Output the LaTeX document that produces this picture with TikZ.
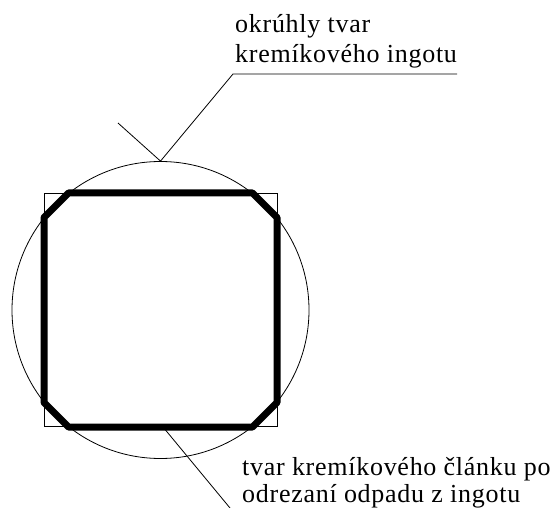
\documentclass[tikz,border=0pt]{standalone}
\usepackage{fontspec}
\setmainfont{Liberation Serif}
\newfontfamily\lblfont[LetterSpace=2.8]{Liberation Serif}
\tikzset{
  thinline/.style={line width=0.8pt},
  cutline/.style={line width=7pt, line join=round},
  lbl/.style={inner sep=0pt, anchor=base west, align=left}
}
\begin{document}
\begin{tikzpicture}[x=1pt,y=-1pt]
\useasboundingbox (0,0) rectangle (552,508);
\node[circle, draw, thinline, minimum size=297pt, inner sep=0pt] (ingot) at (160.5,310) {};
\node[draw, thinline, minimum size=233pt, inner sep=0pt] (sq) at (160.5,310) {};
\draw[cutline] (68.5,193) -- (252.5,193) -- (277,217.5) -- (277,402.5) -- (252.5,427)
  -- (68.5,427) -- (44,402.5) -- (44,217.5) -- cycle;
% top label
\node[lbl, font=\lblfont\fontsize{26}{30}\selectfont] (toplbl) at (235,63) {okrúhly tvar\\kremíkového ingotu};
\coordinate (u1) at (233,74);
\coordinate (u2) at (457,74);
\coordinate (tick) at (118,123);
\draw[thinline] (tick) -- (ingot.north) -- (u1) -- (u2);
% bottom label
\node[lbl, font=\lblfont\fontsize{26}{27}\selectfont] (botlbl) at (242,502) {tvar kremíkového článku po\\odrezaní odpadu z ingotu};
\coordinate (b1) at (163,427);
\coordinate (b2) at (230,508);
\draw[thinline] (b1) -- (b2);
\end{tikzpicture}
\end{document}
